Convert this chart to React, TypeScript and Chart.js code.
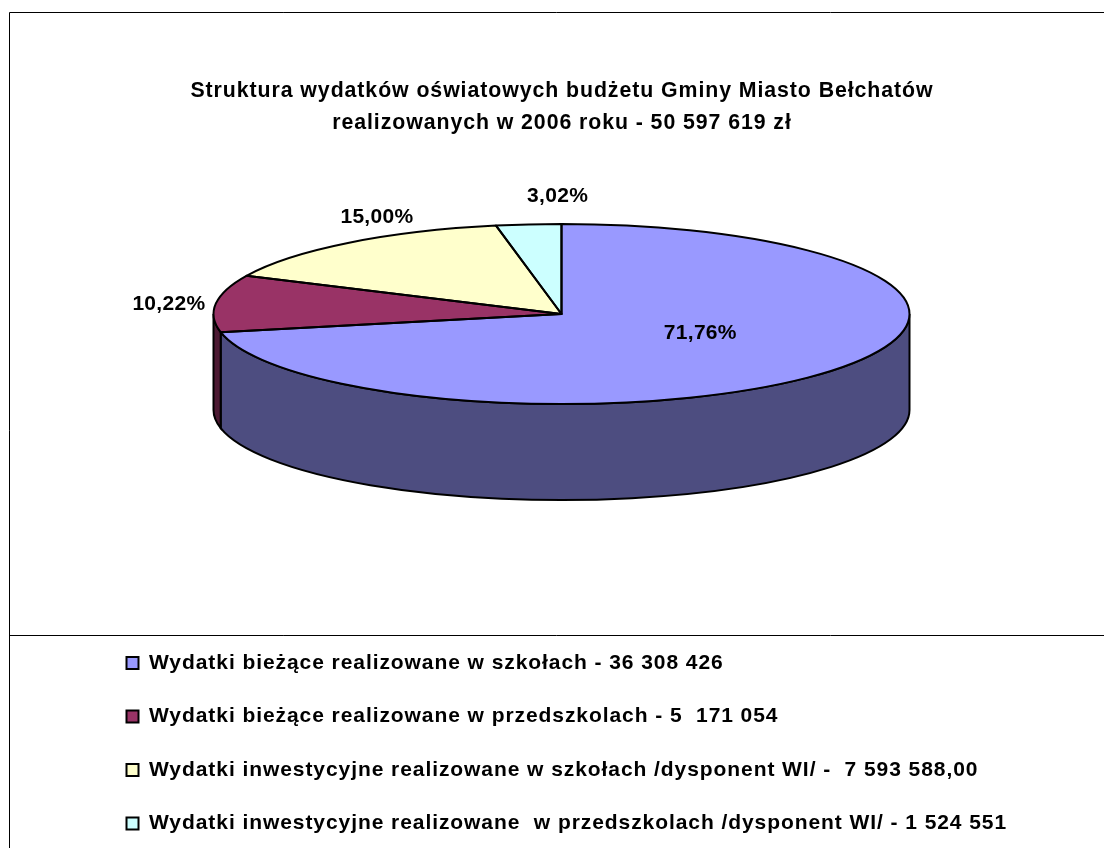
import React, { useEffect, useRef } from "react";
import { Chart, registerables } from "chart.js";

Chart.register(...registerables);

const categories = [
  "Wydatki bieżące realizowane w szkołach - 36 308 426",
  "Wydatki bieżące realizowane w przedszkolach - 5  171 054",
  "Wydatki inwestycyjne realizowane w szkołach /dysponent WI/ -  7 593 588,00",
  "Wydatki inwestycyjne realizowane  w przedszkolach /dysponent WI/ - 1 524 551",
];
const values = [36308426, 5171054, 7593588, 1524551];
const percentLabels = ["71,76%", "10,22%", "15,00%", "3,02%"];
const titleLines = [
  "Struktura wydatków oświatowych budżetu Gminy Miasto Bełchatów",
  "realizowanych w 2006 roku - 50 597 619 zł",
];
const topColors = ["#9999FF", "#993366", "#FFFFCC", "#CCFFFF"];
const wallColors = ["#4D4D80", "#4D1A33", "#80805F", "#668080"];
const labelOffsets = [
  [-131, -38],
  [-47, 1],
  [29, -26],
  [29, -28],
];

const CX = 561.5;
const CY = 314;
const RX = 348;
const RY = 90;
const DEPTH = 96;

const pie3d = {
  id: "pie3d",
  beforeDatasetsDraw(chart: any) {
    const ctx = chart.ctx;
    const arcs = chart.getDatasetMeta(0).data;
    arcs.forEach((arc: any, i: number) => {
      const a = Math.max(arc.startAngle, 0);
      const b = Math.min(arc.endAngle, Math.PI);
      if (b <= a) return;
      ctx.save();
      ctx.beginPath();
      ctx.ellipse(CX, CY, RX, RY, 0, a, b);
      ctx.lineTo(CX + RX * Math.cos(b), CY + RY * Math.sin(b) + DEPTH);
      ctx.ellipse(CX, CY + DEPTH, RX, RY, 0, b, a, true);
      ctx.closePath();
      ctx.fillStyle = wallColors[i];
      ctx.fill();
      ctx.strokeStyle = "#000";
      ctx.lineWidth = 2;
      ctx.stroke();
      ctx.restore();
    });
    const first = arcs[0];
    const R = first.outerRadius;
    ctx.save();
    ctx.translate(CX, CY);
    ctx.scale(RX / R, RY / R);
    ctx.translate(-first.x, -first.y);
  },
  afterDatasetsDraw(chart: any) {
    const ctx = chart.ctx;
    ctx.restore();
    const arcs = chart.getDatasetMeta(0).data;
    ctx.save();
    ctx.strokeStyle = "#000";
    ctx.lineWidth = 2;
    ctx.lineJoin = "round";
    arcs.forEach((arc: any) => {
      ctx.beginPath();
      ctx.moveTo(CX, CY);
      ctx.ellipse(CX, CY, RX, RY, 0, arc.startAngle, arc.endAngle);
      ctx.closePath();
      ctx.stroke();
    });
    ctx.fillStyle = "#000";
    ctx.font = "bold 21px 'Liberation Sans'";
    ctx.letterSpacing = "0.3px";
    ctx.textAlign = "center";
    ctx.textBaseline = "middle";
    arcs.forEach((arc: any, i: number) => {
      const mid = (arc.startAngle + arc.endAngle) / 2;
      const x = CX + RX * Math.cos(mid) + labelOffsets[i][0];
      const y = CY + RY * Math.sin(mid) + labelOffsets[i][1];
      ctx.fillText(percentLabels[i], x, y);
    });
    ctx.restore();
  },
};

const frame = {
  id: "frame",
  beforeDraw(chart: any) {
    const ctx = chart.ctx;
    ctx.letterSpacing = "0.93px";
    ctx.save();
    ctx.fillStyle = "#fff";
    ctx.fillRect(0, 0, chart.width, chart.height);
    ctx.strokeStyle = "#000";
    ctx.lineWidth = 1;
    ctx.beginPath();
    ctx.moveTo(chart.width, 12.5);
    ctx.lineTo(9.5, 12.5);
    ctx.lineTo(9.5, chart.height);
    ctx.moveTo(9.5, 635.5);
    ctx.lineTo(chart.width, 635.5);
    ctx.stroke();
    ctx.restore();
  },
};

export default function App() {
  const ref = useRef<HTMLCanvasElement | null>(null);
  useEffect(() => {
    if (!ref.current) return;
    const chart = new Chart(ref.current, {
      type: "pie",
      data: {
        labels: categories,
        datasets: [
          {
            data: values,
            backgroundColor: topColors,
            borderWidth: 0,
            clip: false,
          } as any,
        ],
      },
      options: {
        responsive: false,
        animation: false,
        layout: { padding: { left: 94, right: 74, top: 0, bottom: 4 } },
        plugins: {
          tooltip: { enabled: false },
          title: {
            display: true,
            text: titleLines,
            color: "#000",
            font: { family: "'Liberation Sans'", weight: "bold", size: 21.3, lineHeight: 1.5 },
            padding: { top: 75, bottom: 0 },
          },
          legend: {
            display: true,
            position: "bottom",
            align: "start",
            maxWidth: 950,
            labels: {
              color: "#000",
              font: { family: "'Liberation Sans'", weight: "bold", size: 21 },
              boxWidth: 12,
              boxHeight: 12,
              padding: 32.5,
              generateLabels: (c: any) =>
                categories.map((text, i) => ({
                  text,
                  fillStyle: topColors[i],
                  strokeStyle: "#000",
                  lineWidth: 2,
                  hidden: false,
                  index: i,
                })),
            },
          },
        },
      },
      plugins: [frame, pie3d],
    } as any);
    return () => chart.destroy();
  }, []);
  return (
    <canvas
      ref={ref}
      width={1104}
      height={848}
      style={{ position: "absolute", left: 0, top: 0, display: "block" }}
    />
  );
}
